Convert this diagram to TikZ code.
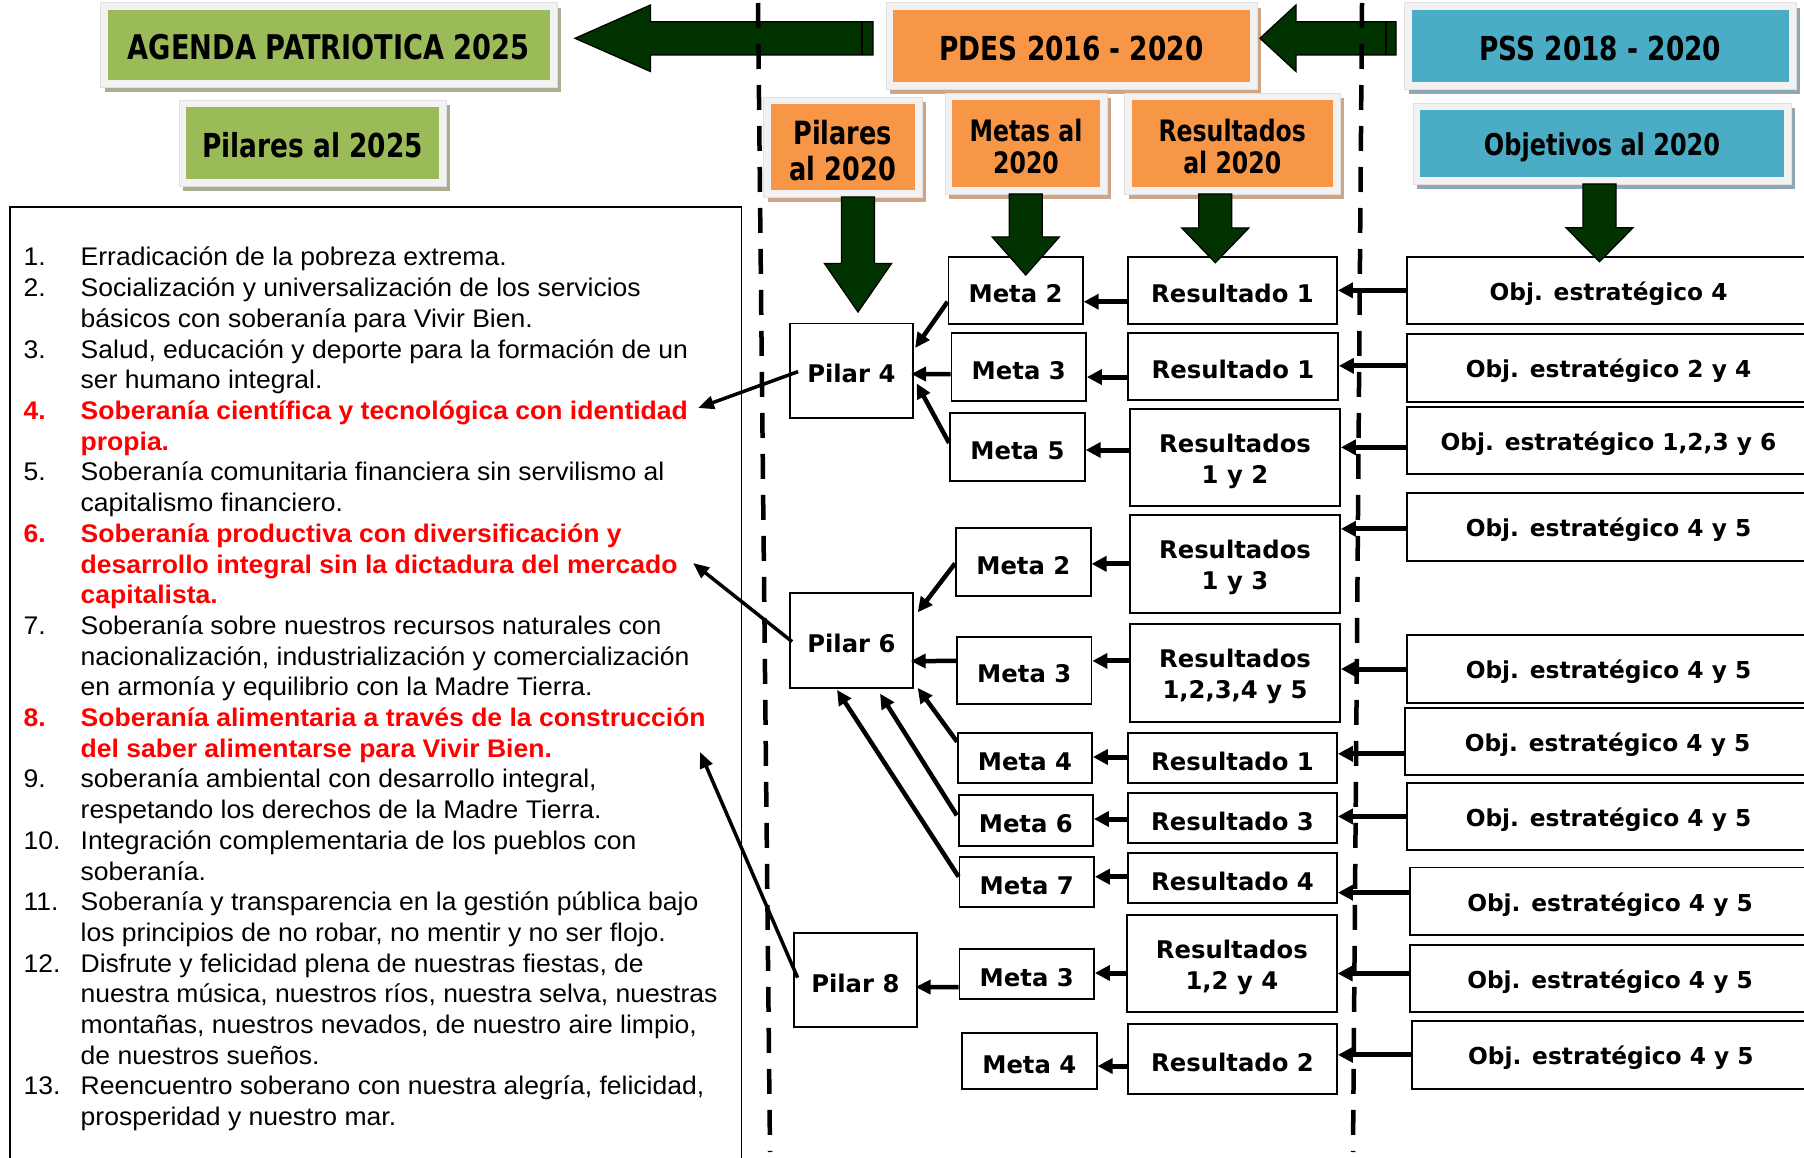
\documentclass[tikz,border=0pt]{standalone}
\usepackage{fontspec}
\setmainfont{Liberation Sans}[FakeStretch=1.04]
\newfontfamily\boxfont{DejaVu Sans}
\newfontfamily\hdrfont{DejaVu Sans}[FakeStretch=0.8]
\usetikzlibrary{arrows.meta,calc}
\definecolor{gfill}{HTML}{9BBB59}
\definecolor{gshad}{HTML}{A9AD91}
\definecolor{ofill}{HTML}{F79646}
\definecolor{oshad}{HTML}{CFA587}
\definecolor{bfill}{HTML}{4BACC6}
\definecolor{bshad}{HTML}{8FA8B2}
\definecolor{framecol}{HTML}{F2F2F2}
\definecolor{dkgreen}{HTML}{003300}
\definecolor{redtxt}{HTML}{FF0000}
\tikzset{
 wbox/.style={draw=black, line width=1.8pt, fill=white, inner sep=0pt, align=center, font=\boxfont\bfseries\fontsize{24.3}{31}\selectfont, execute at begin node={\rule{0pt}{25pt}}},
 wboxtwo/.style={wbox, execute at begin node={\rule{0pt}{56.5pt}}},
 wboxobj/.style={wbox, font=\boxfont\bfseries\fontsize{23.3}{31}\selectfont},
 hdr/.style={inner sep=0pt, align=center, font=\hdrfont\bfseries\fontsize{33}{36}\selectfont, execute at begin node={\rule{0pt}{30pt}}},
 hdrs/.style={inner sep=0pt, align=center, font=\hdrfont\bfseries\fontsize{29.5}{32}\selectfont, execute at begin node={\rule{0pt}{27.5pt}}},
 lst/.style={inner sep=0pt, font=\fontsize{25.5}{30.7}\selectfont},
 lstr/.style={inner sep=0pt, text=redtxt, font=\bfseries\fontsize{25.5}{30.7}\selectfont},
 garrow/.style={fill=dkgreen, draw=black, line width=1.3pt, line join=miter},
 sepline/.style={line width=4.5pt, dash pattern=on 25pt off 16pt},
 arrA/.style={line width=5pt, -{Triangle[length=15pt,width=15pt]}},
 arrB/.style={line width=4.5pt, -{Triangle[length=15pt,width=14pt]}},
 arrC/.style={line width=3.5pt, -{Triangle[length=16pt,width=13pt]}},
}
\newcommand{\hdrBox}[9]{%
 \fill[#7] (#2+4,#3+5) rectangle (#4+4,#5+5);
 \filldraw[fill=framecol, draw=black!12, line width=0.8pt] (#2,#3) rectangle (#4,#5);
 \node[#8, fill=#6, minimum width={(#4-#2-14)*1pt}, minimum height={(#5-#3-14)*1pt}] (#1) at ({(#2+#4)/2},{(#3+#5)/2}) {#9};}
\newcommand{\wBox}[7][wbox]{\node[#1, minimum width={(#5-#3)*1pt}, minimum height={(#6-#4)*1pt}] (#2) at ({(#3+#5)/2},{(#4+#6)/2}) {#7};}
\newcommand{\gdown}[4]{\filldraw[garrow] (#1-16.5,#2) -- (#1+16.5,#2) -- (#1+16.5,#3) -- (#1+33.5,#3) -- (#1,#4) -- (#1-33.5,#3) -- (#1-16.5,#3) -- cycle;}
\newcommand{\hArr}[5]{\path ($(#2.west)+(0,#3)$) coordinate (#5); \draw[#1] (#5) -- (#5 -| #4.east);}
\newcommand{\lstN}[3]{\node[lst, anchor=base west] (#1) at (23.5,#2) {#3};}
\newcommand{\lstT}[3]{\node[lst, anchor=base west] (#1) at (80.5,#2) {#3};}
\newcommand{\lstRN}[3]{\node[lstr, anchor=base west] (#1) at (23.5,#2) {#3};}
\newcommand{\lstRT}[3]{\node[lstr, anchor=base west] (#1) at (80.5,#2) {#3};}
\begin{document}
\begin{tikzpicture}[x=1pt,y=-1pt]
\path[use as bounding box] (0,0) rectangle (1804,1158);
\clip (0,0) rectangle (1804,1158);
\fill[white] (0,0) rectangle (1804,1158);

% header boxes
\hdrBox{agenda}{100.5}{2.7}{557}{87}{gfill}{gshad}{hdr,font=\hdrfont\bfseries\fontsize{34}{36}\selectfont}{AGENDA PATRIOTICA 2025}
\hdrBox{pil25}{179}{100}{446}{186}{gfill}{gshad}{hdr}{Pilares al 2025}
\hdrBox{pdes}{886}{2.7}{1257}{89}{ofill}{oshad}{hdr}{PDES 2016 - 2020}
\hdrBox{pil20}{763.5}{97}{922}{197}{ofill}{oshad}{hdr,font=\hdrfont\bfseries\fontsize{32}{36}\selectfont, execute at begin node={\rule{0pt}{67pt}}}{Pilares\\al 2020}
\hdrBox{metas}{945}{93}{1107}{194}{ofill}{oshad}{hdrs, execute at begin node={\rule{0pt}{59.5pt}}}{Metas al\\2020}
\hdrBox{resul}{1124.5}{93}{1340}{194}{ofill}{oshad}{hdrs, execute at begin node={\rule{0pt}{59.5pt}}}{Resultados\\al 2020}
\hdrBox{pss}{1404.5}{2.7}{1796}{89}{bfill}{bshad}{hdr}{PSS 2018 - 2020}
\hdrBox{objet}{1413}{103}{1791}{184}{bfill}{bshad}{hdrs,font=\hdrfont\bfseries\fontsize{30}{34}\selectfont, execute at begin node={\rule{0pt}{30pt}}}{Objetivos al 2020}

% white boxes
\wBox{P4}{790}{323.5}{912.7}{417.7}{Pilar 4}
\wBox{P6}{790}{593}{912.8}{687.7}{Pilar 6}
\wBox{P8}{794}{932.7}{916.7}{1027}{Pilar 8}
\wBox{m42}{948.4}{256.7}{1082.8}{324}{Meta 2}
\wBox{m43}{951.5}{332.7}{1086}{400.7}{Meta 3}
\wBox{m45}{950}{413}{1084.8}{481}{Meta 5}
\wBox{m62}{956}{528}{1090.7}{595.7}{Meta 2}
\wBox{m63}{957}{636.7}{1091.5}{704}{Meta 3}
\wBox{m64}{958}{732.7}{1092}{783.3}{Meta 4}
\wBox{m66}{958.7}{795}{1093}{845.7}{Meta 6}
\wBox{m67}{959.5}{857}{1094}{907}{Meta 7}
\wBox{m83}{959.5}{949}{1094}{999}{Meta 3}
\wBox{m84}{962}{1032.7}{1096.7}{1088.7}{Meta 4}
\wBox{r1}{1128}{256.7}{1337}{324}{Resultado 1}
\wBox{r2}{1128}{332.7}{1338}{400}{Resultado 1}
\wBox[wboxtwo]{r3}{1130}{409}{1340}{506}{Resultados\\1 y 2}
\wBox[wboxtwo]{r4}{1130}{515}{1340}{612.7}{Resultados\\1 y 3}
\wBox[wboxtwo]{r5}{1130}{624}{1340}{721.7}{Resultados\\1,2,3,4 y 5}
\wBox{r6}{1128}{732.7}{1337}{783.3}{Resultado 1}
\wBox{r7}{1128}{793}{1337}{843}{Resultado 3}
\wBox{r8}{1128}{853}{1337}{903}{Resultado 4}
\wBox[wboxtwo]{r9}{1127}{915}{1336.7}{1012}{Resultados\\1,2 y 4}
\wBox{r10}{1128}{1023.7}{1337}{1094}{Resultado 2}
\wBox[wboxobj]{o1}{1407}{256.7}{1810}{324}{Obj. estratégico 4}
\wBox[wboxobj]{o2}{1407}{334}{1810}{401.7}{Obj. estratégico 2 y 4}
\wBox[wboxobj]{o3}{1407}{406.7}{1810}{474}{Obj. estratégico 1,2,3 y 6}
\wBox[wboxobj]{o4}{1407}{493}{1810}{560.7}{Obj. estratégico 4 y 5}
\wBox[wboxobj]{o5}{1407}{635.3}{1810}{702.7}{Obj. estratégico 4 y 5}
\wBox[wboxobj]{o6}{1405}{708.3}{1810}{775.3}{Obj. estratégico 4 y 5}
\wBox[wboxobj]{o7}{1407}{782.7}{1810}{850.2}{Obj. estratégico 4 y 5}
\wBox[wboxobj]{o8}{1410}{867.5}{1810}{935}{Obj. estratégico 4 y 5}
\wBox[wboxobj]{o9}{1410}{945}{1810}{1012}{Obj. estratégico 4 y 5}
\wBox[wboxobj]{o10}{1411.7}{1021}{1810}{1088.7}{Obj. estratégico 4 y 5}

% list box and text
\draw[line width=1.6pt] (10,207) rectangle (741.5,1175);
\lstN{n1}{266}{1.} \lstT{a1}{266}{Erradicación de la pobreza extrema.}
\lstN{n2}{296.7}{2.} \lstT{a2}{296.7}{Socialización y universalización de los servicios}
\lstT{a3}{327.4}{básicos con soberanía para Vivir Bien.}
\lstN{n3}{358.1}{3.} \lstT{a4}{358.1}{Salud, educación y deporte para la formación de un}
\lstT{a5}{388.8}{ser humano integral.}
\lstRN{n4}{419.5}{4.} \lstRT{a6}{419.5}{Soberanía científica y tecnológica con identidad}
\lstRT{a7}{450.2}{propia.}
\lstN{n5}{480.9}{5.} \lstT{a8}{480.9}{Soberanía comunitaria financiera sin servilismo al}
\lstT{a9}{511.6}{capitalismo financiero.}
\lstRN{n6}{542.3}{6.} \lstRT{a10}{542.3}{Soberanía productiva con diversificación y}
\lstRT{a11}{573}{desarrollo integral sin la dictadura del mercado}
\lstRT{a12}{603.7}{capitalista.}
\lstN{n7}{634.4}{7.} \lstT{a13}{634.4}{Soberanía sobre nuestros recursos naturales con}
\lstT{a14}{665.1}{nacionalización, industrialización y comercialización}
\lstT{a15}{695.8}{en armonía y equilibrio con la Madre Tierra.}
\lstRN{n8}{726.5}{8.} \lstRT{a16}{726.5}{Soberanía alimentaria a través de la construcción}
\lstRT{a17}{757.2}{del saber alimentarse para Vivir Bien.}
\lstN{n9}{787.9}{9.} \lstT{a18}{787.9}{soberanía ambiental con desarrollo integral,}
\lstT{a19}{818.6}{respetando los derechos de la Madre Tierra.}
\lstN{n10}{849.3}{10.} \lstT{a20}{849.3}{Integración complementaria de los pueblos con}
\lstT{a21}{880}{soberanía.}
\lstN{n11}{910.7}{11.} \lstT{a22}{910.7}{Soberanía y transparencia en la gestión pública bajo}
\lstT{a23}{941.4}{los principios de no robar, no mentir y no ser flojo.}
\lstN{n12}{972.1}{12.} \lstT{a24}{972.1}{Disfrute y felicidad plena de nuestras fiestas, de}
\lstT{a25}{1002.8}{nuestra música, nuestros ríos, nuestra selva, nuestras}
\lstT{a26}{1033.5}{montañas, nuestros nevados, de nuestro aire limpio,}
\lstT{a27}{1064.2}{de nuestros sueños.}
\lstN{n13}{1094.9}{13.} \lstT{a28}{1094.9}{Reencuentro soberano con nuestra alegría, felicidad,}
\lstT{a29}{1125.6}{prosperidad y nuestro mar.}

% objetivos -> resultados
\hArr{arrA}{o1}{0}{r1}{c1}
\hArr{arrA}{o2}{-2}{r2}{c2}
\hArr{arrA}{o3}{7}{r3}{c3}
\hArr{arrA}{o4}{2}{r4}{c4}
\hArr{arrA}{o5}{0}{r5}{c5}
\hArr{arrA}{o6}{12}{r6}{c6}
\hArr{arrA}{o7}{0}{r7}{c7}
\hArr{arrA}{o8}{-8.6}{r8}{c8}
\hArr{arrA}{o9}{-5}{r9}{c9}
\hArr{arrA}{o10}{0}{r10}{c10}
% resultados -> metas
\hArr{arrA}{r1}{11.4}{m42}{d1}
\hArr{arrA}{r2}{10.7}{m43}{d2}
\hArr{arrA}{r3}{-7.5}{m45}{d3}
\hArr{arrA}{r4}{0}{m62}{d4}
\hArr{arrA}{r5}{-11.9}{m63}{d5}
\hArr{arrA}{r6}{-1}{m64}{d6}
\hArr{arrA}{r7}{1}{m66}{d7}
\hArr{arrA}{r8}{-1.3}{m67}{d8}
\hArr{arrA}{r9}{9.5}{m83}{d9}
\hArr{arrA}{r10}{7.2}{m84}{d10}
% metas -> pilares
\draw[arrB] ($(m42.west)+(0,11.4)$) -- ($(P4.east)+(1.5,-22.6)$);
\draw[arrB] ($(m43.west)+(0,7.3)$) -- ($(P4.east)+(-2.5,3.4)$);
\draw[arrB] ($(m45.west)+(0,-4)$) -- ($(P4.east)+(3,12.7)$);
\draw[arrB] ($(m62.west)+(0,1.5)$) -- ($(P6.east)+(4,-28)$);
\draw[arrB] ($(m63.west)+(0,-9.4)$) -- ($(P6.east)+(-3,20.7)$);
\draw[arrB] ($(m64.north west)+(0,10)$) -- ($(P6.south east)+(4,-0.7)$);
\draw[arrB] ($(m66.west)+(-1,-5)$) -- ($(P6.south)+(28.6,5)$);
\draw[arrB] ($(m67.west)+(0,-5.3)$) -- ($(P6.south)+(-14.4,1.3)$);
\draw[arrB] ($(m83.west)+(0,13)$) -- ($(P8.east)+(-2,7.2)$);
% pilares -> list
\coordinate (t4) at (698,408);
\coordinate (t6) at (693,563);
\coordinate (t8) at (700,752);
\draw[arrC] ($(P4.west)+(9,1)$) -- (t4);
\draw[arrC] ($(P6.west)+(3,1.3)$) -- (t6);
\draw[arrC] ($(P8.west)+(4.5,-2.2)$) -- (t8);

% big green arrows
\filldraw[garrow] (575,38.3) -- (650.5,5) -- (650.5,21.7) -- (873,21.7) -- (873,55) -- (650.5,55) -- (650.5,71.5) -- cycle;
\draw[line width=1.3pt] (862,21.7) -- (862,55);
\filldraw[garrow] (1260,38.3) -- (1296,5) -- (1296,21.7) -- (1396,21.7) -- (1396,55) -- (1296,55) -- (1296,71.5) -- cycle;
\draw[line width=1.3pt] (1386,21.7) -- (1386,55);
\gdown{858}{197}{263.5}{312}
\gdown{1025.75}{194}{237}{275}
\gdown{1215.3}{194}{228}{262.7}
\gdown{1599.5}{184}{227.7}{261.7}

% separators
\draw[sepline] (758,3) -- (770,1152);
\draw[sepline] (1362,3) -- (1353,1152);
\end{tikzpicture}
\end{document}
